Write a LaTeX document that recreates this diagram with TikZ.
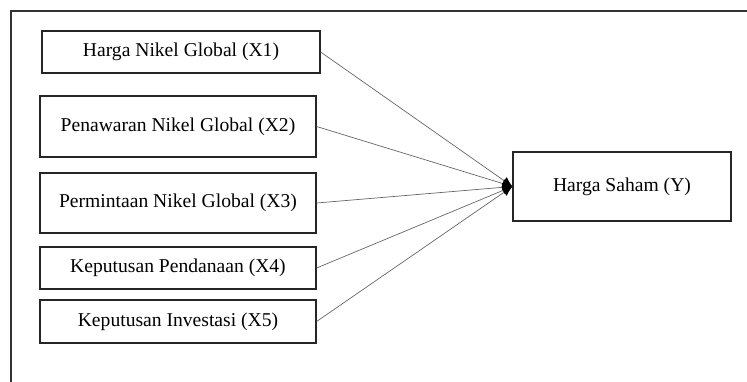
\documentclass[tikz,border=0pt]{standalone}
\usepackage{fontspec}
\setmainfont{Liberation Serif}
\usetikzlibrary{arrows.meta}

\begin{document}
\begin{tikzpicture}[x=1pt,y=-1pt]
        \tikzset{var box/.style={draw=black!85, line width=1.2pt, inner sep=0pt,
                    font=\fontsize{19.6}{23}\selectfont},
                 path line/.style={draw=black!60, line width=0.7pt,
                    -{Latex[length=10pt,width=9pt,black]}}}

        \useasboundingbox (0,0) rectangle (747,382);
        \draw[black!80, line width=1.3pt] (747,11) -- (11,11) -- (11,382);

        \node[var box, minimum width=278, minimum height=42] (x1) at (181,52) {Harga Nikel Global (X1)};
        \node[var box, minimum width=276, minimum height=61] (x2) at (178,126.5) {Penawaran Nikel Global (X2)};
        \node[var box, minimum width=276, minimum height=60] (x3) at (178,203) {Permintaan Nikel Global (X3)};
        \node[var box, minimum width=276, minimum height=42] (x4) at (178,268) {Keputusan Pendanaan (X4)};
        \node[var box, minimum width=276, minimum height=43] (x5) at (178,321.5) {Keputusan Investasi (X5)};

        \node[var box, minimum width=218, minimum height=69] (y) at (622,186.5) {Harga Saham (Y)};

        \foreach \v in {x1,x2,x3,x4,x5}
            \draw[path line] (\v.east) -- (y.west);
    \end{tikzpicture}
\end{document}
